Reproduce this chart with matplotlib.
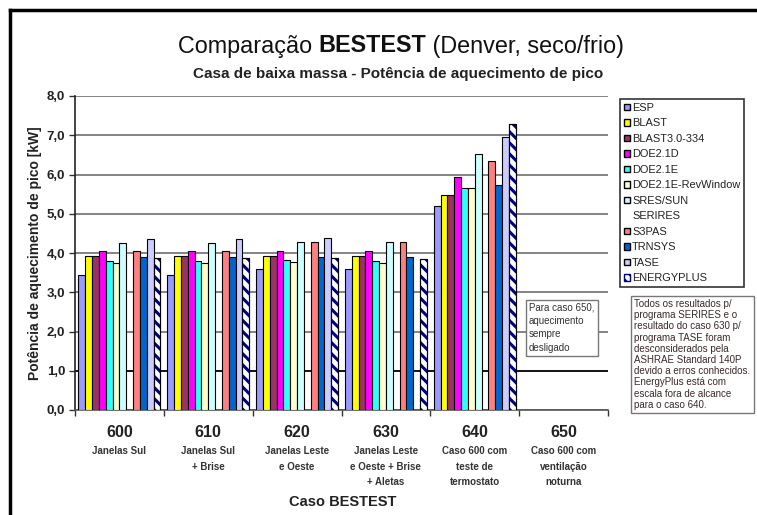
import numpy as np
import matplotlib
matplotlib.use("Agg")
import matplotlib.pyplot as plt
from matplotlib.patches import Rectangle
from matplotlib.lines import Line2D

plt.rcParams['font.family'] = ['Liberation Sans', 'DejaVu Sans']
plt.rcParams['hatch.linewidth'] = 2.2

# ---------------- data ----------------
cases = ["600", "610", "620", "630", "640", "650"]
case_desc = ["Janelas Sul", "Janelas Sul\n+ Brise", "Janelas Leste\ne Oeste",
             "Janelas Leste\ne Oeste + Brise\n+ Aletas", "Caso 600 com\nteste de\ntermostato",
             "Caso 600 com\nventilação\nnoturna"]
programs = ["ESP", "BLAST", "BLAST3.0-334", "DOE2.1D", "DOE2.1E", "DOE2.1E-RevWindow",
            "SRES/SUN", "SERIRES", "S3PAS", "TRNSYS", "TASE", "ENERGYPLUS"]
nan = np.nan
esp        = [3.44, 3.44, 3.59, 3.59, 5.21, nan]
blast      = [3.92, 3.92, 3.93, 3.93, 5.47, nan]
blast3     = [3.92, 3.92, 3.93, 3.93, 5.47, nan]
doe21d     = [4.04, 4.04, 4.04, 4.04, 5.93, nan]
doe21e     = [3.80, 3.80, 3.81, 3.79, 5.66, nan]
doe21e_rw  = [3.75, 3.75, 3.78, 3.75, 5.66, nan]
sres_sun   = [4.25, 4.25, 4.27, 4.29, 6.52, nan]
serires    = [nan, nan, nan, nan, nan, nan]
s3pas      = [4.04, 4.04, 4.27, 4.27, 6.34, nan]
trnsys     = [3.91, 3.91, 3.91, 3.91, 5.72, nan]
tase       = [4.35, 4.35, 4.37, nan, 6.95, nan]
energyplus = [3.87, 3.87, 3.87, 3.85, 7.28, nan]
series = [esp, blast, blast3, doe21d, doe21e, doe21e_rw, sres_sun, serires,
          s3pas, trnsys, tase, energyplus]
yticks = [0, 1, 2, 3, 4, 5, 6, 7, 8]
ytick_labels = ["0,0", "1,0", "2,0", "3,0", "4,0", "5,0", "6,0", "7,0", "8,0"]

colors = ["#9999FF", "#FFFF00", "#993366", "#FF00FF", "#33FFFF", "#FFFFCC",
          "#CCFFFF", "#660066", "#FF8080", "#0066CC", "#CCCCFF", "#FFFFFF"]

W, H = 757, 515
fig = plt.figure(figsize=(W / 100, H / 100), dpi=100)
fig.patch.set_facecolor("white")

def fx(px):
    return px / W

def fy(py):
    return 1 - py / H

ax = fig.add_axes([fx(75), fy(410), fx(608) - fx(75), fy(96) - fy(410)])
ax.set_xlim(-0.5, 5.5)
ax.set_ylim(0, 8)

x = np.arange(len(cases))
bw = 0.077
n = len(programs)
for i, (vals, c, name) in enumerate(zip(series, colors, programs)):
    off = (i - (n - 1) / 2) * bw
    if name == "ENERGYPLUS":
        ax.bar(x + off, vals, width=bw, color="white", edgecolor="#000080",
               hatch="\\\\\\", linewidth=0.8, zorder=3)
        ax.bar(x + off, vals, width=bw, color="none", edgecolor="black",
               linewidth=0.8, zorder=4)
    else:
        ax.bar(x + off, vals, width=bw, color=c, edgecolor="black",
               linewidth=0.8, zorder=3)

ax.set_yticks(yticks)
ax.set_yticklabels(ytick_labels, fontsize=9.5, fontweight="bold", color="#222222")
ax.grid(axis="y", color="#7a7a7a", linewidth=1.3, zorder=0)
ax.get_ygridlines()[1].set_color("black")
ax.set_xticks(np.arange(-0.5, 6.0, 1.0))
ax.set_xticklabels([])
ax.tick_params(axis="x", direction="out", length=4, width=1, color="#333333")
ax.tick_params(axis="y", direction="out", length=4, width=1, color="#333333", pad=3)
for s in ["top", "right"]:
    ax.spines[s].set_visible(False)
ax.spines["left"].set_color("#222222")
ax.spines["bottom"].set_color("#555555")
ax.spines["left"].set_linewidth(1.2)
ax.spines["bottom"].set_linewidth(1.2)

# category labels
for xi, c, d in zip(x, cases, case_desc):
    ax.annotate(c, xy=(xi, 0), xycoords="data", xytext=(0, -16.5),
                textcoords="offset points", ha="center", va="center",
                fontsize=11.5, fontweight="bold", color="#222222",
                annotation_clip=False)
    ax.annotate(d, xy=(xi, 0), xycoords="data", xytext=(0, -26),
                textcoords="offset points", ha="center", va="top",
                fontsize=7, fontweight="bold", color="#333333",
                linespacing=1.7, annotation_clip=False)

fig.text(fx(343), fy(502), "Caso BESTEST", ha="center", va="center",
         fontsize=10.5, fontweight="bold", color="#222222")
fig.text(fx(35), fy(253), "Potência de aquecimento de pico [kW]", rotation=90,
         ha="center", va="center", fontsize=10, fontweight="bold", color="#222222")

# title with bold middle word
fig.canvas.draw()
r = fig.canvas.get_renderer()
parts = [("Comparação ", "normal"), ("BESTEST", "bold"), (" (Denver, seco/frio)", "normal")]
tmp = []
total = 0
for s, wgt in parts:
    t = fig.text(0, 0, s, fontsize=16.8, fontweight=wgt)
    wdt = t.get_window_extent(r).width
    tmp.append((t, wdt))
    total += wdt
cur = 401 - total / 2
for t, wdt in tmp:
    t.set_position((fx(cur), fy(46)))
    t.set_va("center")
    t.set_color("#111111")
    cur += wdt
fig.text(fx(398), fy(74), "Casa de baixa massa - Potência de aquecimento de pico",
         ha="center", va="center", fontsize=11, fontweight="bold", color="#222222")

# legend
handles = []
for name, c in zip(programs, colors):
    if name == "SERIRES":
        handles.append(Rectangle((0, 0), 1, 1, facecolor="none", edgecolor="none"))
    elif name == "ENERGYPLUS":
        handles.append(Rectangle((0, 0), 1, 1, facecolor="white", edgecolor="#000080",
                                 hatch="\\\\\\", linewidth=1))
    else:
        handles.append(Rectangle((0, 0), 1, 1, facecolor=c, edgecolor="black", linewidth=1))
leg = fig.legend(handles, programs, loc="upper left",
                 bbox_to_anchor=(fx(620), fy(99)), bbox_transform=fig.transFigure,
                 fontsize=7.9, handlelength=0.55, handleheight=0.55, handletextpad=0.2,
                 labelspacing=0.5, borderpad=0.35, borderaxespad=0, fancybox=False,
                 frameon=True, edgecolor="black")
leg.get_frame().set_linewidth(1.2)
for t in leg.get_texts():
    t.set_color("#222222")

# notes
fig.text(fx(529), fy(303), "Para caso 650,\naquecimento\nsempre\ndesligado",
         ha="left", va="top", fontsize=7, color="#333333", linespacing=1.4,
         bbox=dict(boxstyle="square,pad=0.35", facecolor="white", edgecolor="#777777", lw=1))
fig.text(fx(634), fy(299),
         "Todos os resultados p/\nprograma SERIRES e o\nresultado do caso 630 p/\n"
         "programa TASE foram\ndesconsiderados pela\nASHRAE Standard 140P\n"
         "devido a erros conhecidos.\nEnergyPlus está com\nescala fora de alcance\npara o caso 640.",
         ha="left", va="top", fontsize=7, color="#3a2a2a", linespacing=1.15,
         bbox=dict(boxstyle="square,pad=0.35", facecolor="white", edgecolor="#777777", lw=1))

# outer frame (top and left)
fig.add_artist(Line2D([fx(10), fx(10)], [0, fy(10)], color="black", lw=2.5,
                      transform=fig.transFigure))
fig.add_artist(Line2D([fx(10), 1], [fy(10), fy(10)], color="black", lw=2.5,
                      transform=fig.transFigure))

fig.savefig("out.png", dpi=100)
